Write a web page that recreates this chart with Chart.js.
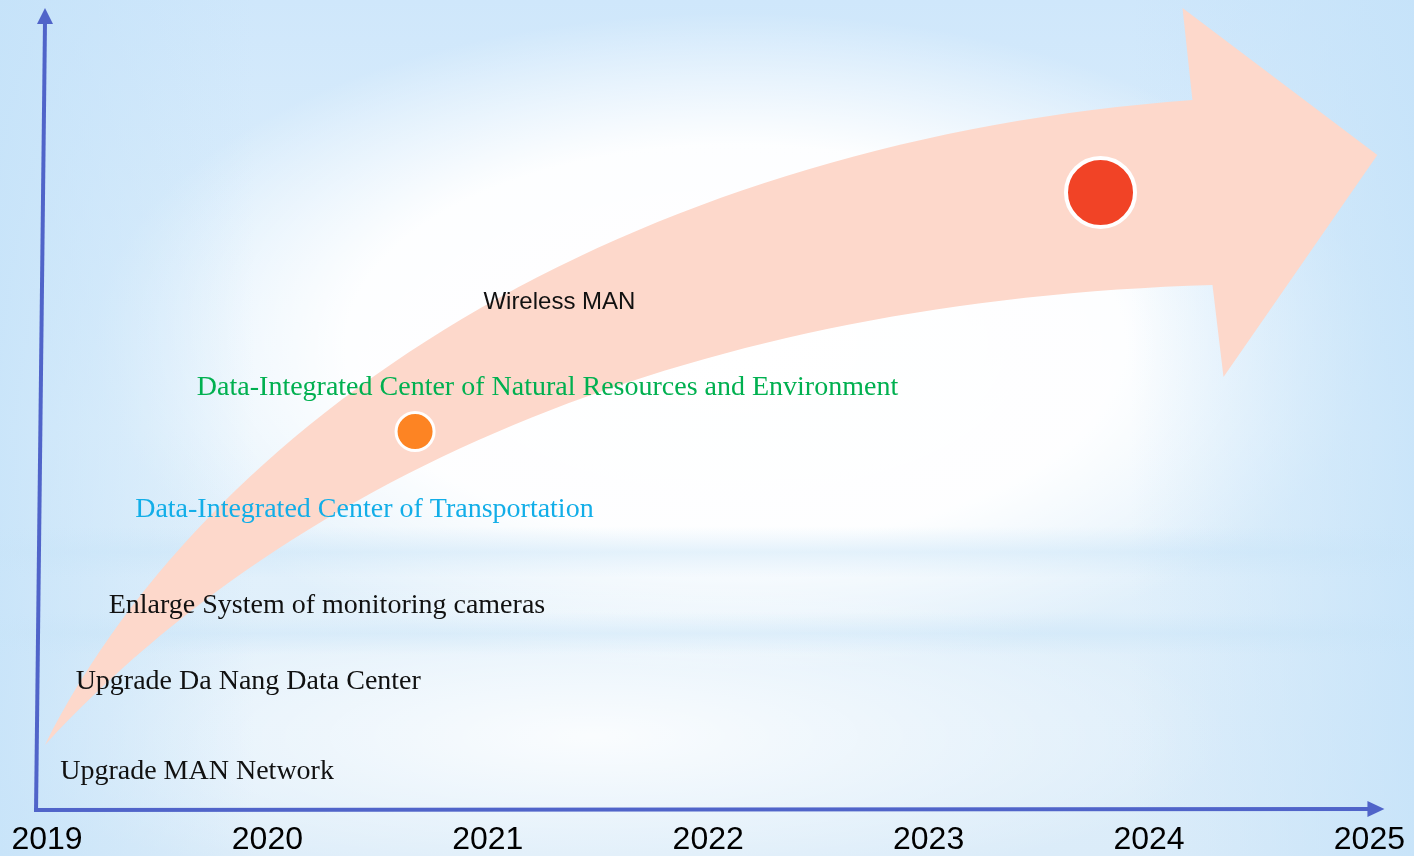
<!DOCTYPE html>
<html>
<head>
<meta charset="utf-8">
<title>Roadmap 2019 - 2025</title>
<script src="https://cdn.jsdelivr.net/npm/chart.js@4.4.1/dist/chart.umd.min.js"></script>
<style>
  html, body { margin: 0; padding: 0; background: #dcecf9; }
  #wrap { width: 1414px; height: 856px; position: relative; }
</style>
</head>
<body>
<div id="wrap"><canvas id="roadmapCanvas"></canvas></div>
<script>
// Roadmap data (x = year, y = level on a hidden 0-100 scale)
const yearTicks = [2019, 2020, 2021, 2022, 2023, 2024, 2025];

const milestoneNames = [
    'Upgrade MAN Network',
    'Upgrade Da Nang Data Center',
    'Enlarge System of monitoring cameras',
    'Data-Integrated Center of Transportation',
    'Data-Integrated Center of Natural Resources and Environment',
    'Wireless MAN'
];
const milestoneYear = [2019.06, 2019.13, 2019.28, 2019.40, 2019.68, 2020.98];
const milestoneLevel = [4.75, 16, 25.6, 37.6, 52.75, 63.4];

const markerYear = [2020.67, 2023.78];
const markerLevel = [47.3, 77.2];

// label styling (kept apart from the data)
const labelColors = ['#111111', '#111111', '#111111', '#12aee8', '#00b050', '#111111'];
const labelFonts = [
    '28px "Liberation Serif", "Times New Roman", serif',
    '28px "Liberation Serif", "Times New Roman", serif',
    '28px "Liberation Serif", "Times New Roman", serif',
    '28px "Liberation Serif", "Times New Roman", serif',
    '28px "Liberation Serif", "Times New Roman", serif',
    '24px "Liberation Sans", Arial, sans-serif'
];

const AXIS_COLOR = '#5064c9';
const ARROW_COLOR = 'rgb(253, 216, 203)';

// background: soft blue with a white glow
const backdropPlugin = {
    id: 'backdrop',
    beforeDraw(chart) {
        const ctx = chart.ctx;
        const w = chart.width, h = chart.height;
        ctx.save();

        const g = ctx.createLinearGradient(0, 0, 0, h);
        g.addColorStop(0, '#cfe7fb');
        g.addColorStop(0.5, '#e4f2fc');
        g.addColorStop(1, '#dbecf9');
        ctx.fillStyle = g;
        ctx.fillRect(0, 0, w, h);

        // white glow in the middle
        ctx.save();
        ctx.translate(w * 0.52, h * 0.40);
        ctx.scale(1.95, 1);
        const rg = ctx.createRadialGradient(0, 0, 0, 0, 0, 330);
        rg.addColorStop(0, 'rgba(255,255,255,1)');
        rg.addColorStop(0.6, 'rgba(255,255,255,0.95)');
        rg.addColorStop(1, 'rgba(255,255,255,0)');
        ctx.fillStyle = rg;
        ctx.fillRect(-400, -400, 800, 800);
        ctx.restore();

        // lighter lower area
        ctx.save();
        ctx.translate(w * 0.42, h * 0.86);
        ctx.scale(4, 1);
        const lg = ctx.createRadialGradient(0, 0, 0, 0, 0, 160);
        lg.addColorStop(0, 'rgba(255,255,255,0.85)');
        lg.addColorStop(1, 'rgba(255,255,255,0)');
        ctx.fillStyle = lg;
        ctx.fillRect(-200, -200, 400, 400);
        ctx.restore();

        // bluish edges left and right
        const gx = ctx.createLinearGradient(0, 0, w, 0);
        gx.addColorStop(0, 'rgba(196,226,249,0.8)');
        gx.addColorStop(0.18, 'rgba(196,226,249,0)');
        gx.addColorStop(0.8, 'rgba(196,226,249,0)');
        gx.addColorStop(1, 'rgba(196,226,249,0.8)');
        ctx.fillStyle = gx;
        ctx.fillRect(0, 0, w, h);

        // faint horizontal streaks
        [[0.645, 0.03], [0.74, 0.025]].forEach(([pos, size]) => {
            const sg = ctx.createLinearGradient(0, h * (pos - size), 0, h * (pos + size));
            sg.addColorStop(0, 'rgba(200,228,248,0)');
            sg.addColorStop(0.5, 'rgba(200,228,248,0.45)');
            sg.addColorStop(1, 'rgba(200,228,248,0)');
            ctx.fillStyle = sg;
            ctx.fillRect(0, h * (pos - size), w, h * size * 2);
        });

        // the big curved arrow, laid out in data units
        const xs = chart.scales.x, ys = chart.scales.y;
        const P = (yr, lv) => [xs.getPixelForValue(yr), ys.getPixelForValue(lv)];
        const tail = P(2018.991, 8.125);
        ctx.beginPath();
        ctx.moveTo(...tail);
        ctx.bezierCurveTo(...P(2019.785, 51.25), ...P(2021.735, 83.75), ...P(2024.197, 88.75));
        ctx.lineTo(...P(2024.152, 100.25));
        ctx.lineTo(...P(2025.036, 81.875));
        ctx.lineTo(...P(2024.338, 54.125));
        ctx.lineTo(...P(2024.288, 65.625));
        ctx.bezierCurveTo(...P(2021.961, 63.75), ...P(2020.147, 42.5), ...tail);
        ctx.closePath();
        ctx.fillStyle = ARROW_COLOR;
        ctx.fill();

        ctx.restore();
    }
};

// axis lines with arrow heads
const axesPlugin = {
    id: 'axisArrows',
    beforeDatasetsDraw(chart) {
        const ctx = chart.ctx;
        const a = chart.chartArea;
        ctx.save();
        ctx.strokeStyle = AXIS_COLOR;
        ctx.fillStyle = AXIS_COLOR;
        ctx.lineWidth = 4;
        ctx.lineCap = 'butt';

        // vertical axis (slightly leaning like the original)
        ctx.beginPath();
        ctx.moveTo(a.left - 11, a.bottom + 2);
        ctx.lineTo(a.left - 2, a.top + 12);
        ctx.stroke();
        ctx.beginPath();
        ctx.moveTo(a.left - 2, a.top - 2);
        ctx.lineTo(a.left + 6, a.top + 14);
        ctx.lineTo(a.left - 10, a.top + 14);
        ctx.closePath();
        ctx.fill();

        // horizontal axis
        ctx.beginPath();
        ctx.moveTo(a.left - 13, a.bottom);
        ctx.lineTo(a.right + 2, a.bottom - 1);
        ctx.stroke();
        ctx.beginPath();
        ctx.moveTo(a.right + 15, a.bottom - 1);
        ctx.lineTo(a.right - 2, a.bottom - 9);
        ctx.lineTo(a.right - 2, a.bottom + 7);
        ctx.closePath();
        ctx.fill();
        ctx.restore();
    }
};

// milestone captions, placed at the milestone points
const captionPlugin = {
    id: 'captions',
    afterDatasetsDraw(chart) {
        const ctx = chart.ctx;
        const meta = chart.getDatasetMeta(0);
        ctx.save();
        ctx.textAlign = 'left';
        ctx.textBaseline = 'middle';
        meta.data.forEach((pt, i) => {
            ctx.font = labelFonts[i];
            ctx.fillStyle = labelColors[i];
            ctx.fillText(milestoneNames[i], pt.x, pt.y);
        });
        ctx.restore();
    }
};

const ctx = document.getElementById('roadmapCanvas').getContext('2d');
new Chart(ctx, {
    type: 'scatter',
    data: {
        datasets: [
            {
                label: 'Milestones',
                data: milestoneYear.map((x, i) => ({ x: x, y: milestoneLevel[i] })),
                pointRadius: 0,
                pointHoverRadius: 0
            },
            {
                label: 'Progress markers',
                data: markerYear.map((x, i) => ({ x: x, y: markerLevel[i] })),
                pointRadius: [19, 34.5],
                pointHoverRadius: [19, 34.5],
                pointBackgroundColor: ['#fd8423', '#f14326'],
                pointBorderColor: '#ffffff',
                pointBorderWidth: [3, 4],
                clip: false
            }
        ]
    },
    options: {
        responsive: true,
        maintainAspectRatio: false,
        animation: false,
        events: [],
        layout: {
            autoPadding: false,
            // negative bottom padding pulls the year labels close to the lower edge
            padding: { left: 47, right: 44, top: 10, bottom: -15 }
        },
        plugins: {
            legend: { display: false },
            tooltip: { enabled: false }
        },
        scales: {
            x: {
                type: 'linear',
                min: yearTicks[0],
                max: yearTicks[yearTicks.length - 1],
                afterBuildTicks: (scale) => {
                    scale.ticks = yearTicks.map(v => ({ value: v }));
                },
                ticks: {
                    callback: (value) => String(value),
                    color: '#000000',
                    padding: 9,
                    maxRotation: 0,
                    autoSkip: false,
                    font: { family: '"Liberation Sans", Arial, sans-serif', size: 32, lineHeight: 1.344 }
                },
                grid: { display: false, drawTicks: false },
                border: { display: false }
            },
            y: {
                min: 0,
                max: 100,
                display: false
            }
        }
    },
    plugins: [backdropPlugin, axesPlugin, captionPlugin]
});
</script>
</body>
</html>
